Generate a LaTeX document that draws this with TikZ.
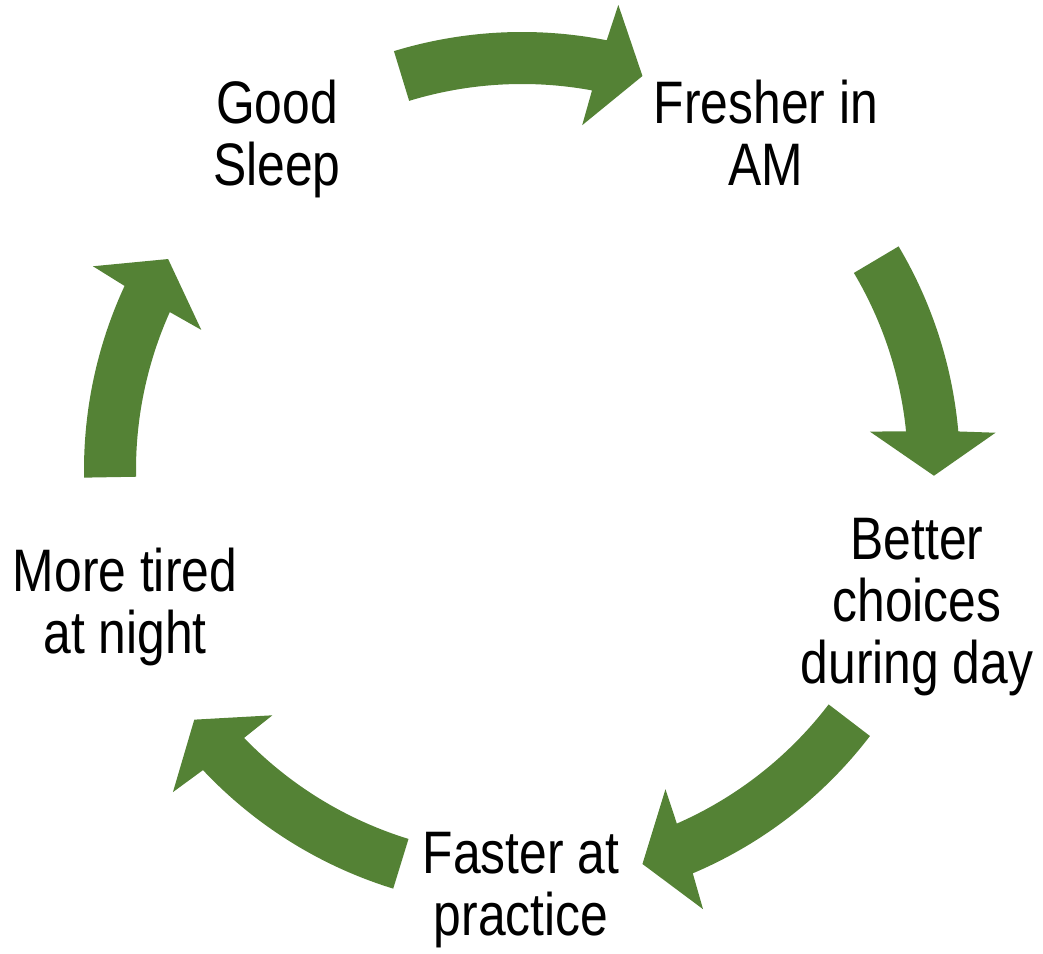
\documentclass[tikz,border=0pt]{standalone}
\usepackage{fontspec}
\setmainfont{Liberation Sans}[FakeStretch=0.83]
\definecolor{arrowgreen}{HTML}{548235}
\tikzset{
  cyclearrow/.style={fill=arrowgreen, draw=none},
  label/.style={anchor=north, inner sep=0pt, outer sep=0pt, align=center, text=black,
    font=\fontsize{60}{62}\selectfont}
}
% #1 tail angle, #2 head base angle, #3 tip angle
\newcommand{\cyclearrowshape}[3]{%
  \fill[cyclearrow] (#1:386pt) arc[start angle=#1, end angle={#2+0.35}, radius=386pt]
    -- ({#2+0.9}:350pt) -- (#3:412pt) -- ({#2-0.9}:475pt) -- ({#2-0.35}:438pt)
    arc[start angle={#2-0.35}, end angle=#1, radius=438pt] -- cycle;}
\begin{document}
\begin{tikzpicture}
\useasboundingbox (0pt,0pt) rectangle (1043pt,953pt);
\coordinate (ctr) at (522pt,483pt);
\node[label] (sleep) at (277pt,873pt) {Good\\Sleep};
\node[label] (fresher) at (766pt,873pt) {Fresher in\\AM};
\node[label] (better) at (917pt,435pt) {Better\\choices\\during day};
\node[label] (faster) at (521pt,121pt) {Faster at\\practice};
\node[label] (tired) at (125pt,405pt) {More tired\\at night};
\begin{scope}[shift={(ctr)}]
  \cyclearrowshape{107}{79.2}{73}
  \cyclearrowshape{30.7}{5.4}{-0.8}
  \cyclearrowshape{-37.4}{-66.7}{-73}
  \cyclearrowshape{252.9}{223.6}{217.3}
  \cyclearrowshape{181}{155.5}{149.2}
\end{scope}
\end{tikzpicture}
\end{document}
